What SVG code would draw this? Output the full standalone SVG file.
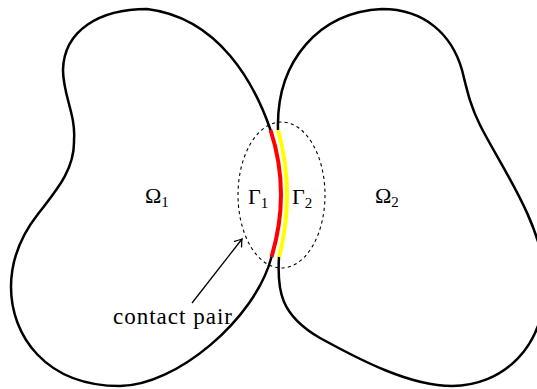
<svg xmlns="http://www.w3.org/2000/svg" width="537" height="389" viewBox="0 0 537 389">
<style>
  .outline { fill: none; stroke: #000; stroke-width: 2.5; stroke-linejoin: round; stroke-linecap: round; }
  .gamma1 { fill: none; stroke: #ff0000; stroke-width: 4; }
  .gamma2 { fill: none; stroke: #ffff00; stroke-width: 4; }
  .dash { fill: none; stroke: #000; stroke-width: 1.1; stroke-dasharray: 3.2 3.2; }
  .lbl { font-family: "Liberation Serif", "DejaVu Serif", serif; font-size: 22px; fill: #000; }
  .sub { font-size: 15px; }
  .cap { font-size: 23px; }
  .arrow { fill: none; stroke: #000; stroke-width: 1.3; }
</style>
<defs>
  <marker id="head" viewBox="-8 -6 10 12" refX="0" refY="0" markerWidth="10" markerHeight="12" markerUnits="userSpaceOnUse" orient="auto">
    <path d="M -6.5 -4.5 Q -2 -1 0 0 Q -2 1 -6.5 4.5" fill="none" stroke="#000" stroke-width="1.3" stroke-linecap="round"/>
  </marker>
</defs>
<rect width="537" height="389" fill="#fff"/>

<g id="omega1">
  <path class="outline" d="M 270.5 130 C 255 85, 220 18, 147 9 C 100 9, 64 30, 63 70 C 63 95, 76 115, 74 140 C 75 170, 55 192, 38 214 C 20 237, 11 260, 11 287 C 11 335, 45 386, 120 386 C 175 386, 255 320, 271.5 257"/>
</g>

<g id="omega2">
  <path class="outline" d="M 278 130 C 276 60, 320 12, 382 9 C 425 9, 452 35, 462 70 C 467 90, 470 105, 480 125 C 500 165, 540 220, 545 275 C 548 350, 500 386, 452 386 C 410 386, 360 360, 320 338 C 280 315, 277 290, 279 257"/>
</g>

<g id="contact-zone">
  <ellipse class="dash" cx="281.5" cy="195" rx="43.5" ry="73"/>
</g>

<g id="gamma1-curve">
  <path class="gamma1" d="M 271.5 257 Q 291 192.5 270.5 130"/>
</g>

<g id="gamma2-curve">
  <path class="gamma2" d="M 278 130 Q 295.5 193 279 257"/>
</g>

<g id="labels">
  <text class="lbl" x="145" y="203">Ω<tspan class="sub" dy="4">1</tspan></text>
  <text class="lbl" x="375" y="203">Ω<tspan class="sub" dy="4">2</tspan></text>
  <text class="lbl" x="248" y="204">Γ<tspan class="sub" dy="3.5">1</tspan></text>
  <text class="lbl" x="292" y="204">Γ<tspan class="sub" dy="3.5">2</tspan></text>
  <text class="lbl cap" x="113" y="324" textLength="119" lengthAdjust="spacing">contact pair</text>
</g>

<g id="connectors">
  <line class="arrow" x1="192" y1="303" x2="242" y2="239" marker-end="url(#head)"/>
</g>
</svg>
